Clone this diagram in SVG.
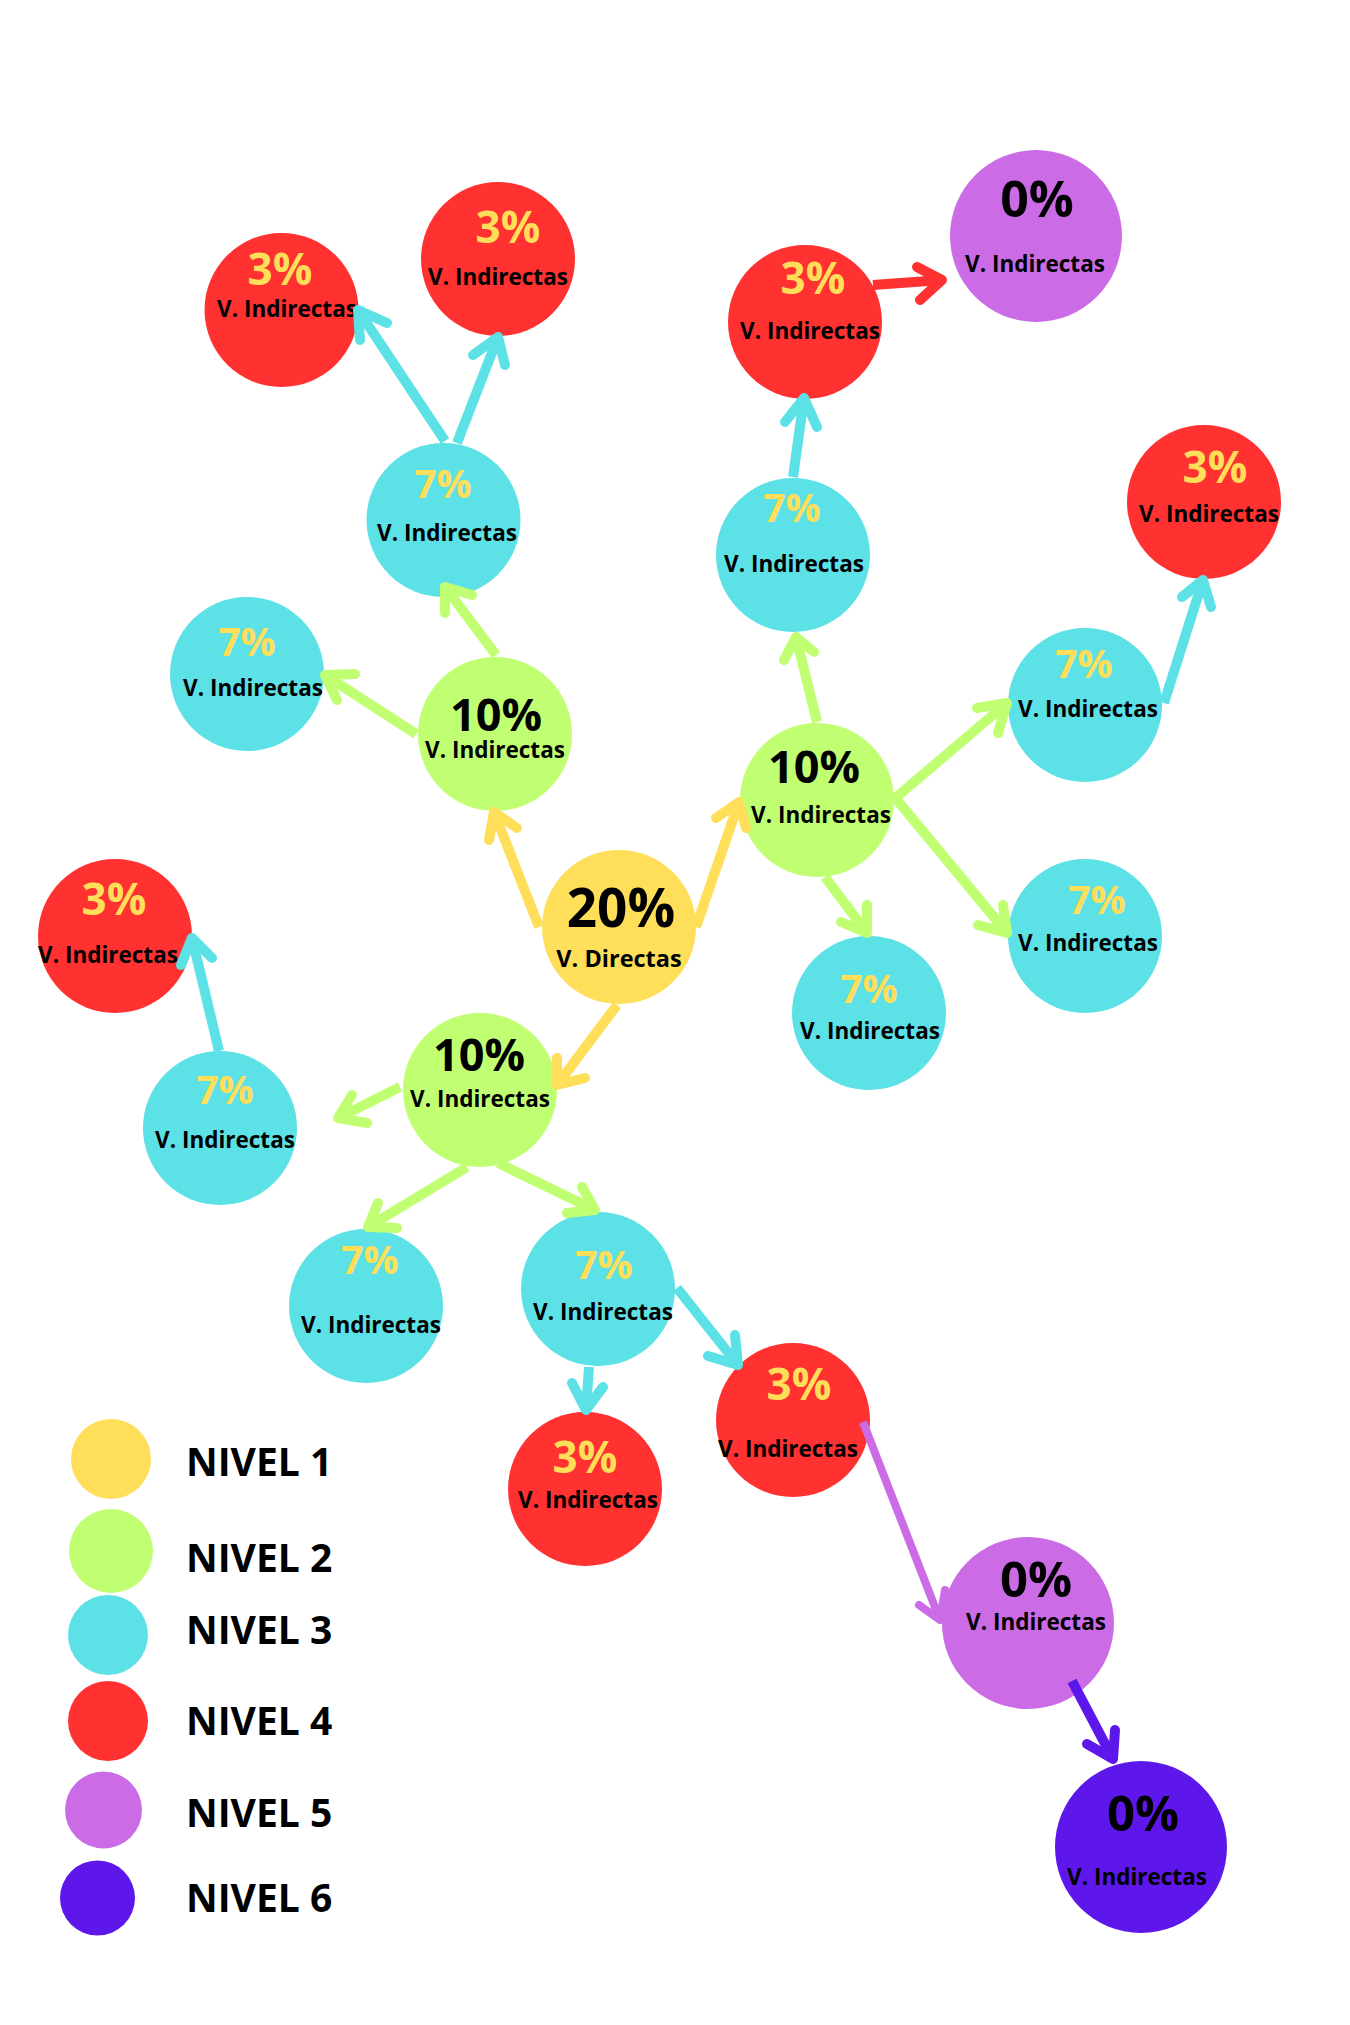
<svg xmlns="http://www.w3.org/2000/svg" width="1350" height="2025" viewBox="0 0 1350 2025">
<style>
text{font-family:"Open Sans","Noto Sans","DejaVu Sans",sans-serif;font-weight:700;text-anchor:middle}
.pk{font-size:45px;fill:#000}
.p3{font-size:44px;fill:#FFDE59}
.p7{font-size:39px;fill:#FFDE59}
.p0{font-size:49px;fill:#000}
.lb{font-size:22.5px;fill:#000}
.lg{font-size:39px;fill:#000;text-anchor:start}
.y{fill:#FFDE59}.g{fill:#C1FF72}.c{fill:#5CE1E6}.r{fill:#FF3131}.pu{fill:#CB6CE6}.v{fill:#5E17EB}
.s{fill:none;stroke-width:10;stroke-linecap:butt}
.h{fill:none;stroke-width:10;stroke-linecap:round;stroke-linejoin:round}
.sy{stroke:#FFDE59}.sg{stroke:#C1FF72}.sc{stroke:#5CE1E6}.sr{stroke:#FF3131}.spu{stroke:#CB6CE6}.sv{stroke:#5E17EB}
</style>
<rect width="1350" height="2025" fill="#fff"/>
<g id="nodes">
<g id="n1"><circle class="y" cx="619" cy="927" r="77"/><text class="pk" x="621" y="927" style="font-size:53px">20%</text><text class="lb" x="619" y="967" style="font-size:23.5px">V. Directas</text></g>
<g id="n2"><circle class="g" cx="495" cy="734" r="77"/><text class="pk" x="496" y="731">10%</text><text class="lb" x="495" y="758">V. Indirectas</text></g>
<g id="n3"><circle class="g" cx="817" cy="800" r="77"/><text class="pk" x="814" y="783">10%</text><text class="lb" x="821" y="823">V. Indirectas</text></g>
<g id="n4"><circle class="g" cx="480" cy="1090" r="77"/><text class="pk" x="479" y="1071">10%</text><text class="lb" x="480" y="1107">V. Indirectas</text></g>
<g id="n5"><circle class="c" cx="443.5" cy="520" r="77"/><text class="p7" x="443" y="498">7%</text><text class="lb" x="447" y="541">V. Indirectas</text></g>
<g id="n6"><circle class="c" cx="247" cy="674" r="77"/><text class="p7" x="247" y="656">7%</text><text class="lb" x="253" y="696">V. Indirectas</text></g>
<g id="n7"><circle class="c" cx="793" cy="555" r="77"/><text class="p7" x="792" y="522">7%</text><text class="lb" x="794" y="572">V. Indirectas</text></g>
<g id="n8"><circle class="c" cx="1085" cy="705" r="77"/><text class="p7" x="1084" y="678">7%</text><text class="lb" x="1088" y="717">V. Indirectas</text></g>
<g id="n9"><circle class="c" cx="1085" cy="936" r="77"/><text class="p7" x="1097" y="914">7%</text><text class="lb" x="1088" y="951">V. Indirectas</text></g>
<g id="n10"><circle class="c" cx="869" cy="1013" r="77"/><text class="p7" x="869" y="1003">7%</text><text class="lb" x="870" y="1039">V. Indirectas</text></g>
<g id="n11"><circle class="c" cx="220" cy="1128" r="77"/><text class="p7" x="225" y="1104">7%</text><text class="lb" x="225" y="1148">V. Indirectas</text></g>
<g id="n12"><circle class="c" cx="366" cy="1306" r="77"/><text class="p7" x="370" y="1274">7%</text><text class="lb" x="371" y="1333">V. Indirectas</text></g>
<g id="n13"><circle class="c" cx="598" cy="1289" r="77"/><text class="p7" x="604" y="1279">7%</text><text class="lb" x="603" y="1320">V. Indirectas</text></g>
<g id="n14"><circle class="r" cx="281.5" cy="310" r="77"/><text class="p3" x="280" y="285">3%</text><text class="lb" x="287" y="317">V. Indirectas</text></g>
<g id="n15"><circle class="r" cx="498" cy="259" r="77"/><text class="p3" x="508" y="243">3%</text><text class="lb" x="498" y="285">V. Indirectas</text></g>
<g id="n16"><circle class="r" cx="805" cy="322" r="77"/><text class="p3" x="813" y="294">3%</text><text class="lb" x="810" y="339">V. Indirectas</text></g>
<g id="n17"><circle class="r" cx="1204" cy="502" r="77"/><text class="p3" x="1215" y="483">3%</text><text class="lb" x="1209" y="522">V. Indirectas</text></g>
<g id="n18"><circle class="r" cx="115" cy="936" r="77"/><text class="p3" x="114" y="915">3%</text><text class="lb" x="108" y="963">V. Indirectas</text></g>
<g id="n19"><circle class="r" cx="585" cy="1489" r="77"/><text class="p3" x="585" y="1473">3%</text><text class="lb" x="588" y="1508">V. Indirectas</text></g>
<g id="n20"><circle class="r" cx="793" cy="1420" r="77"/><text class="p3" x="799" y="1400">3%</text><text class="lb" x="788" y="1457">V. Indirectas</text></g>
<g id="n21"><circle class="pu" cx="1036" cy="236" r="86"/><text class="p0" x="1037" y="217" style="font-size:50px">0%</text><text class="lb" x="1035" y="272">V. Indirectas</text></g>
<g id="n22"><circle class="pu" cx="1028" cy="1623" r="86"/><text class="p0" x="1036" y="1597">0%</text><text class="lb" x="1036" y="1630">V. Indirectas</text></g>
<g id="n23"><circle class="v" cx="1141" cy="1847" r="86"/><text class="p0" x="1143" y="1831">0%</text><text class="lb" x="1137" y="1885">V. Indirectas</text></g>
</g>
<g id="connectors">
<g class="sy"><path class="s" d="M539 927L494 812"/><path class="h" d="M517 828L494 812L489 840"/></g>
<g class="sy"><path class="s" d="M696 927L739 802"/><path class="h" d="M716 818L739 802L746 828"/></g>
<g class="sy"><path class="s" d="M617 1005L557 1085"/><path class="h" d="M585 1078L557 1085L557 1058"/></g>
<g class="sg"><path class="s" d="M416 734L325 675"/><path class="h" d="M355 674L325 675L337 700"/></g>
<g class="sg"><path class="s" d="M496 655L445 587"/><path class="h" d="M472 595L445 587L445 613"/></g>
<g class="sg"><path class="s" d="M817 722L796 637"/><path class="h" d="M784 660L796 637L814 652"/></g>
<g class="sg"><path class="s" d="M893 800L1007 703"/><path class="h" d="M977 708L1007 703L998 733"/></g>
<g class="sg"><path class="s" d="M897 800L1007 933"/><path class="h" d="M978 925L1007 933L1003 905"/></g>
<g class="sg"><path class="s" d="M825 877L867 933"/><path class="h" d="M841 922L867 933L867 905"/></g>
<g class="sg"><path class="s" d="M400 1087L338 1118"/><path class="h" d="M352 1095L338 1118L367 1123"/></g>
<g class="sg"><path class="s" d="M467 1167L368 1227"/><path class="h" d="M378 1203L368 1227L397 1228"/></g>
<g class="sg"><path class="s" d="M498 1163L595 1210"/><path class="h" d="M582 1187L595 1210L567 1213"/></g>
<g class="sc"><path class="s" d="M445 441L358 310"/><path class="h" d="M387 323L358 310L360 340"/></g>
<g class="sc"><path class="s" d="M457 443L498 337"/><path class="h" d="M473 355L498 337L505 365"/></g>
<g class="sc"><path class="s" d="M793 477L804 398"/><path class="h" d="M785 422L804 398L817 427"/></g>
<g class="sc"><path class="s" d="M1164 703L1203 580"/><path class="h" d="M1182 597L1203 580L1211 607"/></g>
<g class="sc"><path class="s" d="M219 1051L192 938"/><path class="h" d="M212 958L192 938L181 965"/></g>
<g class="sc"><path class="s" d="M589 1367L586 1410"/><path class="h" d="M572 1383L586 1410L603 1387"/></g>
<g class="sc"><path class="s" d="M677 1288L738 1365"/><path class="h" d="M708 1356L738 1365L735 1335"/></g>
<g class="sr"><path class="s" d="M873 285L942 280"/><path class="h" d="M917 267L942 280L920 300"/></g>
<g class="spu"><path class="s" d="M863 1422L940 1620" style="stroke-width:8"/><path class="h" d="M919 1605L940 1620L945 1590" style="stroke-width:8"/></g>
<g class="sv"><path class="s" d="M1072 1681L1113 1759"/><path class="h" d="M1087 1744L1113 1759L1115 1730"/></g>
</g>
<g id="legend">
<g id="l1"><circle class="y" cx="111" cy="1459" r="40"/><text class="lg" x="186" y="1476">NIVEL 1</text></g>
<g id="l2"><circle class="g" cx="111" cy="1551" r="42"/><text class="lg" x="186" y="1572">NIVEL 2</text></g>
<g id="l3"><circle class="c" cx="108" cy="1635" r="40"/><text class="lg" x="186" y="1644">NIVEL 3</text></g>
<g id="l4"><circle class="r" cx="108" cy="1721" r="40"/><text class="lg" x="186" y="1735">NIVEL 4</text></g>
<g id="l5"><circle class="pu" cx="103.5" cy="1810" r="38.5"/><text class="lg" x="186" y="1827">NIVEL 5</text></g>
<g id="l6"><circle class="v" cx="97.5" cy="1898" r="37.5"/><text class="lg" x="186" y="1912">NIVEL 6</text></g>
</g>
</svg>
